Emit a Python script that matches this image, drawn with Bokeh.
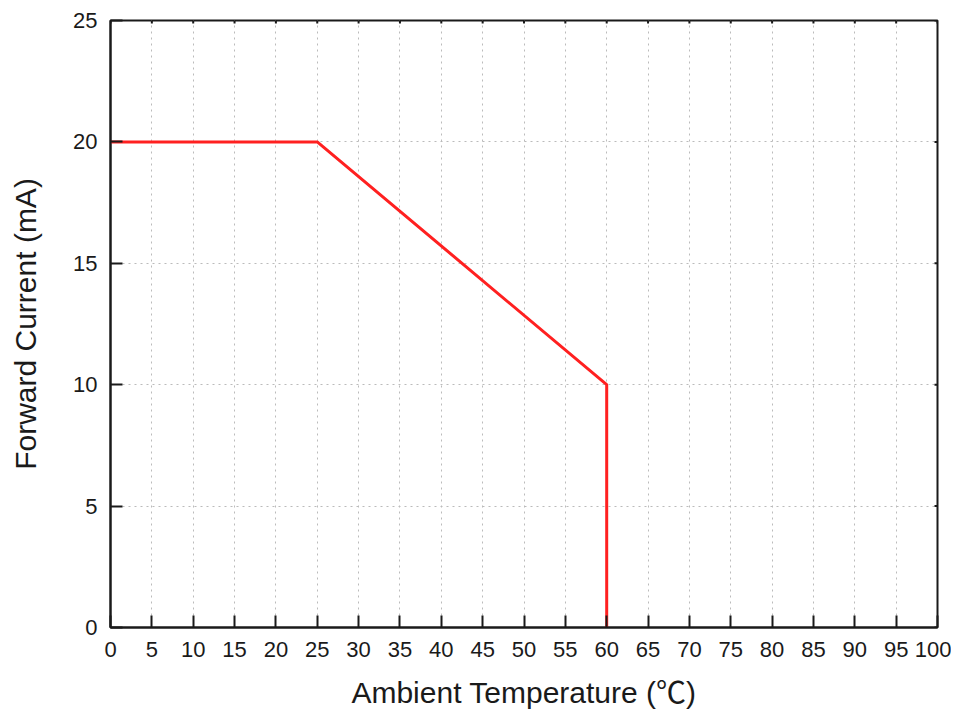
import math
from bokeh.plotting import figure
from bokeh.models import Range1d, FixedTicker
from bokeh.embed import file_html
from bokeh.resources import INLINE

temps = [0, 25, 60, 60]
currents = [20, 20, 10, 0]
x_ticks = list(range(0, 101, 5))
y_ticks = [0, 5, 10, 15, 20, 25]
x_max = 100
y_max = 25

FONT = "Liberation Sans"
LABEL_FONT = "'Liberation Sans', 'Noto Sans CJK SC'"
TXT = "#1a1a1a"

p = figure(width=951, height=715,
           x_range=Range1d(0, x_max), y_range=Range1d(0, y_max),
           output_backend="svg", toolbar_location=None,
           min_border_left=110, min_border_top=20, min_border_right=14, min_border_bottom=88)
p.outline_line_color = TXT
p.outline_line_width = 2
p.background_fill_color = "white"

for g in (p.xgrid[0], p.ygrid[0]):
    g.grid_line_color = "#bbbbbb"
    g.grid_line_dash = "2 4"
    g.grid_line_width = 1
p.xgrid[0].ticker = FixedTicker(ticks=x_ticks)
p.ygrid[0].ticker = FixedTicker(ticks=y_ticks)

# small inward ticks on top and right frame edges
p.ray(x=x_ticks, y=[y_max] * len(x_ticks), length=3, length_units="screen",
      angle=-math.pi / 2, line_color=TXT, line_width=2)
p.ray(x=[x_max] * len(y_ticks), y=y_ticks, length=3, length_units="screen",
      angle=math.pi, line_color=TXT, line_width=2)

p.line(temps, currents, line_color="#ff2020", line_width=3)

for ax in (p.xaxis[0], p.yaxis[0]):
    ax.axis_line_width = 2
    ax.axis_line_color = TXT
    ax.major_tick_in = 12
    ax.major_tick_out = 0
    ax.major_tick_line_width = 2
    ax.major_tick_line_color = TXT
    ax.minor_tick_line_color = None
    ax.major_label_text_font = FONT
    ax.major_label_text_font_size = "22px"
    ax.major_label_text_color = TXT
    ax.axis_label_text_font = LABEL_FONT
    ax.axis_label_text_font_size = "30px"
    ax.axis_label_text_font_style = "normal"
    ax.axis_label_text_color = TXT

p.xaxis[0].ticker = FixedTicker(ticks=x_ticks)
p.yaxis[0].ticker = FixedTicker(ticks=y_ticks)
p.xaxis[0].axis_label = "Ambient Temperature (℃)"
p.yaxis[0].axis_label = "Forward Current (mA)"
p.xaxis[0].major_label_standoff = 14
p.yaxis[0].major_label_standoff = 13
p.xaxis[0].axis_label_standoff = 16
p.yaxis[0].axis_label_standoff = 28

open("out.html", "w").write(file_html(p, INLINE))
